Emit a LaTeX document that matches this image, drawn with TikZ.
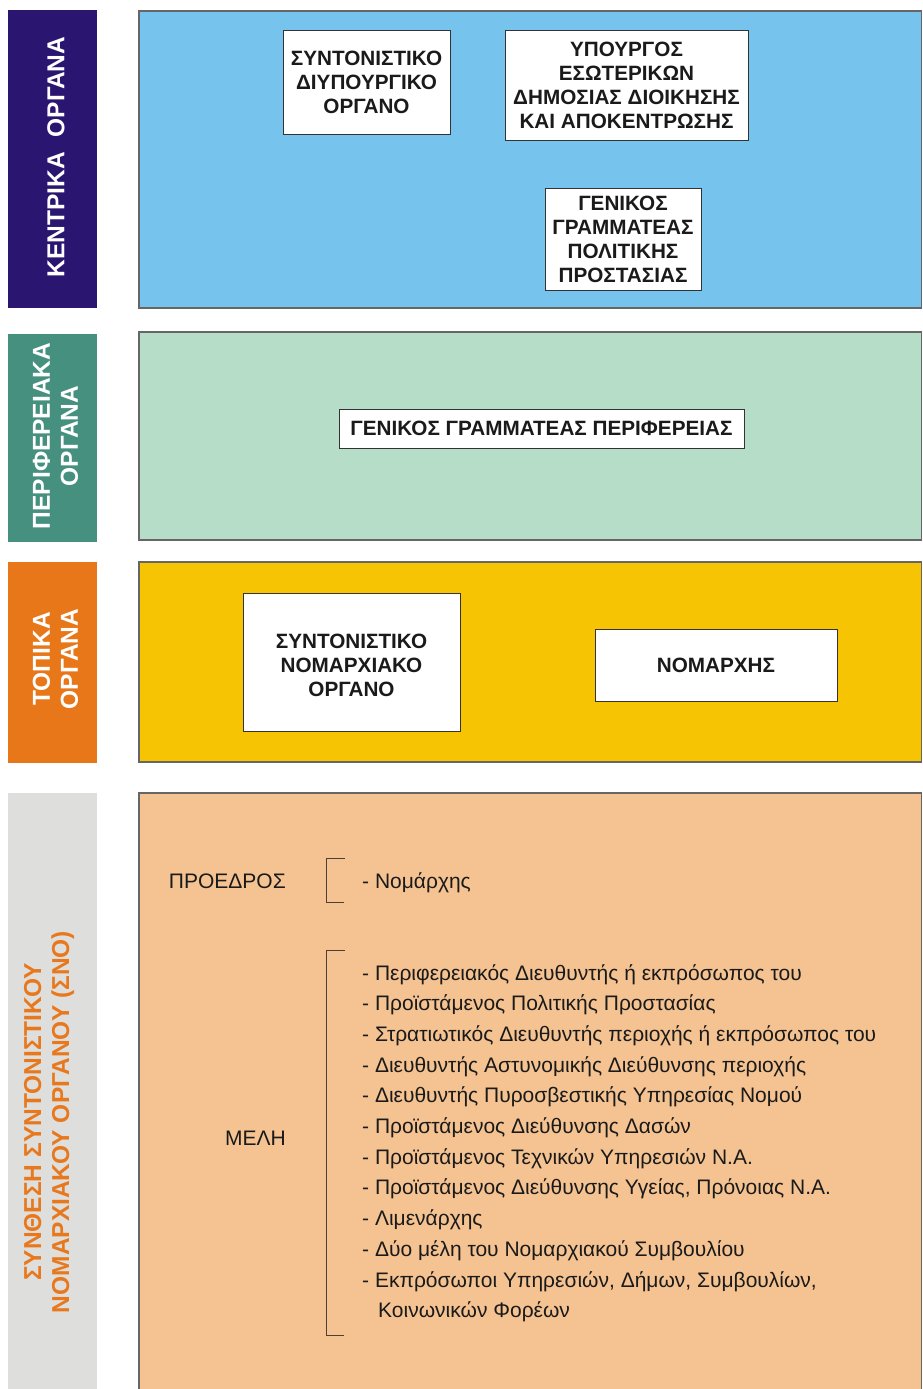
\documentclass[tikz,border=0pt]{standalone}
\usepackage{fontspec}
\setmainfont{Liberation Sans}
\definecolor{stripA}{HTML}{2A1670}
\definecolor{stripB}{HTML}{45907F}
\definecolor{stripC}{HTML}{E8771A}
\definecolor{stripD}{HTML}{DEDEDC}
\definecolor{panelA}{HTML}{76C3EE}
\definecolor{panelB}{HTML}{B6DDC8}
\definecolor{panelC}{HTML}{F6C402}
\definecolor{panelD}{HTML}{F5C391}
\definecolor{orangeText}{HTML}{E8781E}
\definecolor{panelBorder}{HTML}{666666}
\definecolor{boxBorder}{HTML}{333333}
\definecolor{textDark}{HTML}{1A1A1A}
\definecolor{bracketCol}{HTML}{4A4036}
\begin{document}
\begin{tikzpicture}[x=1pt,y=-1pt,
  strip/.style={draw=none, inner sep=0pt, outer sep=0pt, anchor=north west, minimum width=89pt},
  panel/.style={draw=panelBorder, line width=1.2pt, inner sep=0pt, outer sep=0pt, anchor=north west, minimum width=782.5pt},
  wbox/.style={draw=boxBorder, fill=white, line width=0.9pt, align=center, inner sep=0pt, outer sep=0pt,
    font=\bfseries\fontsize{20.7pt}{24pt}\selectfont, text=textDark},
  wtext/.style={align=center, inner sep=0pt, font=\bfseries\fontsize{20.7pt}{24pt}\selectfont, text=textDark},
  striptext/.style={rotate=90, align=center, inner sep=0pt,
    font=\bfseries\fontsize{24.5pt}{28pt}\selectfont, text=white},
  item/.style={anchor=base west, inner sep=0pt, font=\fontsize{21pt}{25pt}\selectfont, text=textDark},
  bracket/.style={draw=bracketCol, line width=1pt}
]
\useasboundingbox (0,0) rectangle (922,1389);
\fill[white] (0,0) rectangle (922,1389);

% left strips
\node[strip, fill=stripA, minimum height=298pt] (sA) at (8,10) {};
\node[strip, fill=stripB, minimum height=208pt] (sB) at (8,334) {};
\node[strip, fill=stripC, minimum height=201pt] (sC) at (8,562) {};
\node[strip, fill=stripD, minimum height=600pt] (sD) at (8,793) {};

\node[striptext] (tA) at (56,157) {ΚΕΝΤΡΙΚΑ\hspace{0.6em}ΟΡΓΑΝΑ};
\node[striptext] (tB) at (55.5,436) {ΠΕΡΙΦΕΡΕΙΑΚΑ\\ΟΡΓΑΝΑ};
\node[striptext] (tC) at (55.5,659) {ΤΟΠΙΚΑ\\ΟΡΓΑΝΑ};
\node[striptext, text=orangeText] (tD) at (49,1122) {ΣΥΝΘΕΣΗ ΣΥΝΤΟΝΙΣΤΙΚΟΥ\\ΝΟΜΑΡΧΙΑΚΟΥ ΟΡΓΑΝΟΥ (ΣΝΟ)};

% panels
\node[panel, fill=panelA, minimum height=297pt] (pA) at (139,11) {};
\node[panel, fill=panelB, minimum height=208pt] (pB) at (139,332) {};
\node[panel, fill=panelC, minimum height=200pt] (pC) at (139,562) {};
\node[panel, fill=panelD, minimum height=605pt] (pD) at (139,793) {};

% white boxes
\node[wbox, minimum width=167pt, minimum height=104pt] (bA) at (366.5,82) {ΣΥΝΤΟΝΙΣΤΙΚΟ\\ΔΙΥΠΟΥΡΓΙΚΟ\\ΟΡΓΑΝΟ};
\node[wbox, minimum width=243pt, minimum height=110pt] (bB) at (626.5,85) {ΥΠΟΥΡΓΟΣ\\ΕΣΩΤΕΡΙΚΩΝ\\ΔΗΜΟΣΙΑΣ ΔΙΟΙΚΗΣΗΣ\\ΚΑΙ ΑΠΟΚΕΝΤΡΩΣΗΣ};
\node[wbox, minimum width=156pt, minimum height=102pt] (bC) at (623,239) {ΓΕΝΙΚΟΣ\\ΓΡΑΜΜΑΤΕΑΣ\\ΠΟΛΙΤΙΚΗΣ\\ΠΡΟΣΤΑΣΙΑΣ};
\node[wbox, minimum width=405pt, minimum height=39pt] (bD) at (541.5,428.5) {ΓΕΝΙΚΟΣ ΓΡΑΜΜΑΤΕΑΣ ΠΕΡΙΦΕΡΕΙΑΣ};
\node[wbox, minimum width=217pt, minimum height=138pt] (bE) at (351.5,662) {};
\node[wtext] (bEtext) at (351.5,665.5) {ΣΥΝΤΟΝΙΣΤΙΚΟ\\ΝΟΜΑΡΧΙΑΚΟ\\ΟΡΓΑΝΟ};
\node[wbox, minimum width=242pt, minimum height=72pt] (bF) at (716,665) {ΝΟΜΑΡΧΗΣ};

% composition
\node[item, anchor=base east] (proedros) at (286,888) {ΠΡΟΕΔΡΟΣ};
\node[item] (nomarxis) at (362,888) {- Νομάρχης};
\draw[bracket] (345,858) -- (326,858) -- (326,902) -- (344,902);

\node[item, anchor=base east] (meli) at (286,1145) {ΜΕΛΗ};
\draw[bracket] (345,950) -- (326,950) -- (326,1335) -- (344,1335);

\node[item] (m1) at (362,980) {- Περιφερειακός Διευθυντής ή εκπρόσωπος του};
\node[item] (m2) at (362,1010.7) {- Προϊστάμενος Πολιτικής Προστασίας};
\node[item] (m3) at (362,1041.4) {- Στρατιωτικός Διευθυντής περιοχής ή εκπρόσωπος του};
\node[item] (m4) at (362,1072.1) {- Διευθυντής Αστυνομικής Διεύθυνσης περιοχής};
\node[item] (m5) at (362,1102.8) {- Διευθυντής Πυροσβεστικής Υπηρεσίας Νομού};
\node[item] (m6) at (362,1133.5) {- Προϊστάμενος Διεύθυνσης Δασών};
\node[item] (m7) at (362,1164.2) {- Προϊστάμενος Τεχνικών Υπηρεσιών Ν.Α.};
\node[item] (m8) at (362,1194.9) {- Προϊστάμενος Διεύθυνσης Υγείας, Πρόνοιας Ν.Α.};
\node[item] (m9) at (362,1225.6) {- Λιμενάρχης};
\node[item] (m10) at (362,1256.3) {- Δύο μέλη του Νομαρχιακού Συμβουλίου};
\node[item] (m11) at (362,1287) {- Εκπρόσωποι Υπηρεσιών, Δήμων, Συμβουλίων,};
\node[item] (m11b) at (378,1317.7) {Κοινωνικών Φορέων};
\end{tikzpicture}
\end{document}
